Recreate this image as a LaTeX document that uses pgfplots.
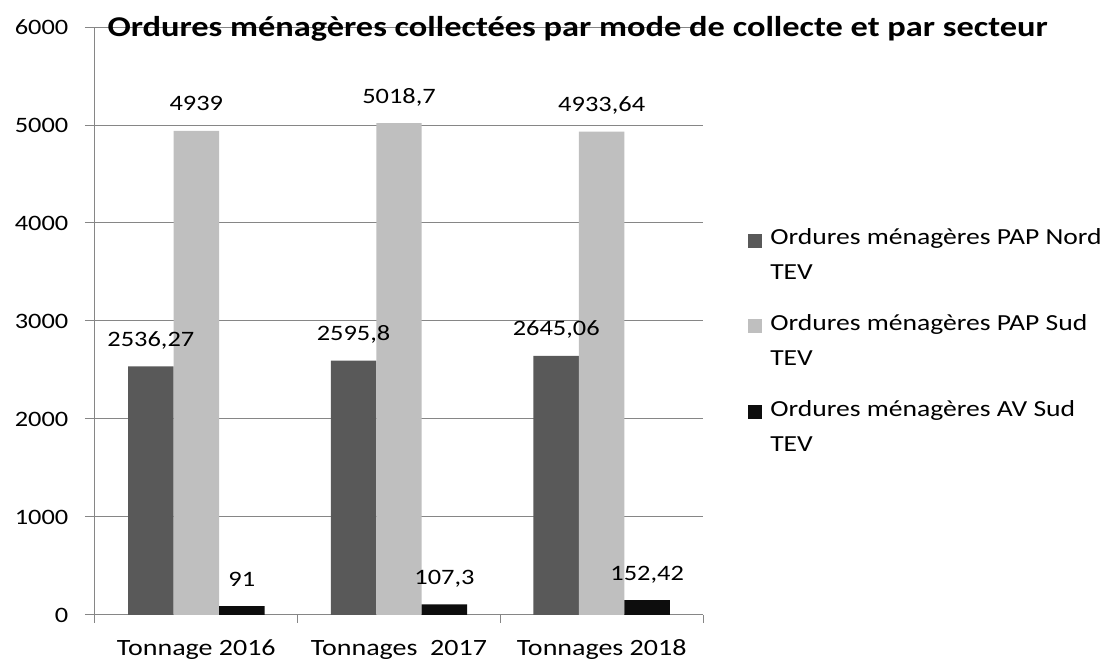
\documentclass[border=0pt]{standalone}
\usepackage{fontspec}
\setmainfont{Carlito}[FakeStretch=1.2]
\usepackage{pgfplots}
\usepackage{pgfplotstable}
\pgfplotsset{compat=1.18}
\definecolor{cdark}{HTML}{595959}
\definecolor{clight}{HTML}{BFBFBF}
\definecolor{cblack}{HTML}{0D0D0D}
\definecolor{cgrid}{HTML}{868686}
\pgfplotstableread{
x y lab
0 2536.27 2536,27
1 2595.8 2595,8
2 2645.06 2645,06
}\nord
\pgfplotstableread{
x y lab
0 4939 4939
1 5018.7 5018,7
2 4933.64 4933,64
}\sud
\pgfplotstableread{
x y lab
0 91 91
1 107.3 107,3
2 152.42 152,42
}\avsud
\pgfplotsset{sqlegend/.style={legend image code/.code={\fill[##1,draw=none] (0pt,5.85pt) rectangle (10.5pt,16.35pt);}}}
\begin{document}
\begin{tikzpicture}
\useasboundingbox (0,0) rectangle (833.25pt,497.25pt);
\begin{axis}[
  at={(71.25pt,36pt)}, anchor=south west,
  scale only axis, width=456pt, height=441pt,
  ymin=0, ymax=6000, xmin=-0.5, xmax=2.5,
  ytick={0,1000,...,6000},
  ymajorgrids, grid style={cgrid, line width=0.75pt},
  axis lines*=left, axis line style={cgrid, line width=0.75pt},
  tick align=outside, major tick length=7.5pt,
  ytick style={cgrid, line width=0.75pt},
  xtick={0,1,2},
  xticklabels={Tonnage 2016, Tonnages\ \ 2017, Tonnages 2018},
  xtick style={draw=none},
  extra x ticks={-0.5,0.5,1.5,2.5},
  extra x tick labels={},
  extra x tick style={major tick length=6pt, xtick style={draw=cgrid, line width=0.75pt}},
  yticklabel style={font=\fontsize{16.5pt}{19pt}\selectfont, xshift=-9pt},
  xticklabel style={font=\fontsize{17.5pt}{20pt}\selectfont, anchor=base, yshift=-23pt},
  /pgf/number format/assume math mode=true,
  /pgf/number format/1000 sep={},
  ybar=0pt, bar width=34.1pt,
  nodes near coords, point meta=explicit symbolic,
  nodes near coords style={font=\fontsize{16.5pt}{19pt}\selectfont, anchor=base, yshift=15pt, inner sep=0pt, text=black},
  every axis title shift=0pt,
  title={Ordures ménagères collectées par mode de collecte et par secteur},
  title style={font=\bfseries\fontsize{21.5pt}{25pt}\selectfont, anchor=base, at={(0.794,0.983)}, inner sep=0pt},
  legend style={at={(1.074,0.6616)}, anchor=north west, draw=none, fill=none, inner sep=0pt,
    font=\fontsize{17.25pt}{26.25pt}\selectfont, cells={anchor=base west, align=left}, row sep=20.5pt,
    /tikz/every odd column/.append style={column sep=4pt}},
  legend cell align=left,
]
\addplot[fill=cdark, draw=none, sqlegend] table[x=x, y=y, meta=lab] {\nord};
\addlegendentry{Ordures ménagères PAP Nord\\TEV}
\addplot[fill=clight, draw=none, sqlegend] table[x=x, y=y, meta=lab] {\sud};
\addlegendentry{Ordures ménagères PAP Sud\\TEV}
\addplot[fill=cblack, draw=none, sqlegend] table[x=x, y=y, meta=lab] {\avsud};
\addlegendentry{Ordures ménagères AV Sud\\TEV}
\end{axis}
\end{tikzpicture}
\end{document}
